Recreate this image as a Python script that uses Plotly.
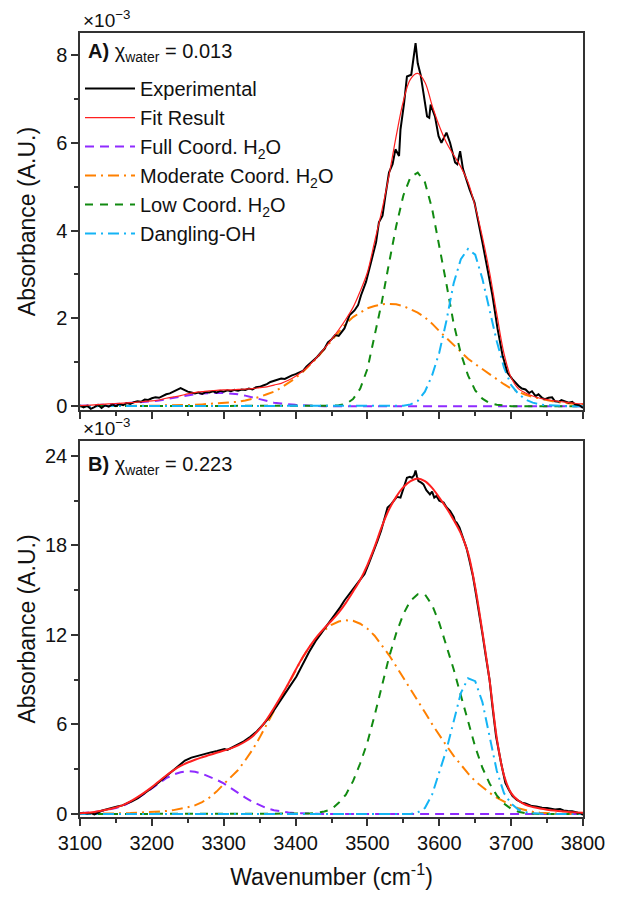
import plotly.graph_objects as go

# ---------------- data (absorbance in units of 1e-3) ----------------
wn = [3100, 3110, 3120, 3130, 3140, 3150, 3160, 3170, 3180, 3190,
      3200, 3210, 3220, 3230, 3240, 3250, 3260, 3270, 3280, 3290,
      3300, 3310, 3320, 3330, 3340, 3350, 3360, 3370, 3380, 3390,
      3400, 3410, 3420, 3430, 3440, 3450, 3460, 3470, 3480, 3490,
      3500, 3510, 3520, 3530, 3540, 3550, 3560, 3570, 3580, 3590,
      3600, 3610, 3620, 3630, 3640, 3650, 3660, 3670, 3680, 3690,
      3700, 3710, 3720, 3730, 3740, 3750, 3760, 3770, 3780, 3790,
      3800]

# Panel A: chi_water = 0.013
a_exp_wn = [3100, 3105, 3110, 3115, 3120, 3125, 3130, 3135, 3140, 3145,
            3150, 3155, 3160, 3165, 3170, 3175, 3180, 3185, 3190, 3195,
            3200, 3205, 3210, 3215, 3220, 3225, 3230, 3235, 3240, 3245,
            3250, 3255, 3260, 3265, 3270, 3275, 3280, 3285, 3290, 3295,
            3300, 3305, 3310, 3315, 3320, 3325, 3330, 3335, 3340, 3345,
            3350, 3355, 3360, 3365, 3370, 3375, 3380, 3385, 3390, 3395,
            3400, 3405, 3410, 3415, 3420, 3425, 3430, 3435, 3440, 3445,
            3450, 3455, 3460, 3468, 3475, 3482, 3487, 3491, 3498, 3505,
            3512, 3516, 3521, 3525, 3530, 3535, 3539, 3544, 3546, 3551,
            3555, 3561, 3564, 3567, 3570, 3574, 3578, 3583, 3586, 3588,
            3594, 3599, 3603, 3610, 3615, 3622, 3625, 3629, 3633, 3642,
            3649, 3654, 3660, 3667, 3674, 3681, 3688, 3695, 3702, 3711,
            3715, 3720, 3725, 3729, 3734, 3738, 3743, 3747, 3752, 3757,
            3761, 3766, 3770, 3775, 3780, 3785, 3789, 3795, 3800]
a_exp_abs = [0.02, -0.03, 0.01, -0.06, -0.02, 0.03, -0.04, 0.02, -0.01, 0.04,
             0.00, 0.05, 0.02, 0.07, 0.05, 0.09, 0.11, 0.10, 0.15, 0.14,
             0.18, 0.20, 0.19, 0.24, 0.27, 0.29, 0.33, 0.38, 0.41, 0.37,
             0.33, 0.31, 0.29, 0.31, 0.28, 0.32, 0.31, 0.34, 0.31, 0.35,
             0.33, 0.36, 0.34, 0.37, 0.35, 0.38, 0.37, 0.40, 0.38, 0.43,
             0.44, 0.47, 0.50, 0.55, 0.58, 0.60, 0.63, 0.62, 0.67, 0.70,
             0.73, 0.77, 0.80, 0.90, 0.97, 1.03, 1.12, 1.22, 1.30, 1.45,
             1.52, 1.62, 1.60, 1.77, 2.07, 2.18, 2.30, 2.52, 2.83, 3.28,
             3.73, 4.19, 4.34, 4.79, 5.32, 5.51, 5.85, 5.70, 6.30, 6.90,
             7.51, 7.55, 7.89, 8.27, 7.81, 7.55, 7.13, 6.60, 6.57, 6.87,
             6.60, 6.15, 6.00, 6.23, 6.00, 5.55, 5.51, 5.81, 5.40, 4.94,
             4.64, 4.26, 3.73, 3.13, 2.52, 1.77, 1.16, 0.76, 0.61, 0.45,
             0.40, 0.38, 0.30, 0.34, 0.23, 0.27, 0.19, 0.16, 0.19, 0.20,
             0.11, 0.10, 0.14, 0.11, 0.08, 0.10, 0.04, 0.02, -0.04]
a_fit = [0.01, 0.02, 0.03, 0.04, 0.05, 0.06, 0.07, 0.08, 0.09, 0.11,
         0.12, 0.14, 0.18, 0.21, 0.24, 0.28, 0.31, 0.33, 0.35, 0.36,
         0.37, 0.37, 0.38, 0.39, 0.40, 0.42, 0.44, 0.48, 0.52, 0.59,
         0.68, 0.80, 0.95, 1.12, 1.31, 1.52, 1.74, 1.98, 2.25, 2.62,
         3.05, 3.75, 4.45, 5.25, 6.15, 6.95, 7.45, 7.58, 7.38, 6.85,
         6.38, 6.00, 5.72, 5.45, 5.10, 4.55, 3.85, 3.05, 2.10, 1.20,
         0.65, 0.40, 0.30, 0.23, 0.18, 0.15, 0.12, 0.10, 0.08, 0.06,
         0.05]
a_full = [0.01, 0.01, 0.02, 0.03, 0.04, 0.05, 0.06, 0.07, 0.08, 0.10,
          0.11, 0.13, 0.16, 0.19, 0.22, 0.25, 0.27, 0.29, 0.30, 0.30,
          0.30, 0.29, 0.27, 0.24, 0.20, 0.16, 0.12, 0.08, 0.06, 0.04,
          0.03, 0.02, 0.01, 0.01, 0, 0, 0, 0, 0, 0,
          0, 0, 0, 0, 0, 0, 0, 0, 0, 0,
          0, 0, 0, 0, 0, 0, 0, 0, 0, 0,
          0, 0, 0, 0, 0, 0, 0, 0, 0, 0,
          0]
a_mod = [0, 0, 0, 0, 0, 0, 0, 0, 0.01, 0.01,
         0.01, 0.01, 0.02, 0.02, 0.02, 0.03, 0.03, 0.04, 0.05, 0.06,
         0.07, 0.08, 0.10, 0.13, 0.17, 0.21, 0.27, 0.33, 0.42, 0.52,
         0.64, 0.78, 0.93, 1.10, 1.30, 1.50, 1.70, 1.88, 2.03, 2.14,
         2.23, 2.28, 2.32, 2.33, 2.32, 2.28, 2.21, 2.13, 2.02, 1.88,
         1.71, 1.55, 1.40, 1.22, 1.08, 0.96, 0.84, 0.72, 0.61, 0.50,
         0.40, 0.33, 0.26, 0.21, 0.17, 0.13, 0.10, 0.08, 0.06, 0.05,
         0.04]
a_low = [0, 0, 0, 0, 0, 0, 0, 0, 0, 0,
         0, 0, 0, 0, 0, 0, 0, 0, 0, 0,
         0, 0, 0, 0, 0, 0, 0, 0, 0, 0,
         0, 0, 0, 0, 0, 0.01, 0.02, 0.05, 0.16, 0.40,
         0.85, 1.58, 2.37, 3.25, 4.10, 4.80, 5.22, 5.32, 5.10, 4.50,
         3.68, 2.78, 1.88, 1.20, 0.70, 0.36, 0.17, 0.07, 0.03, 0.01,
         0, 0, 0, 0, 0, 0, 0, 0, 0, 0,
         0]
a_dang = [0, 0, 0, 0, 0, 0, 0, 0, 0, 0,
          0, 0, 0, 0, 0, 0, 0, 0, 0, 0,
          0, 0, 0, 0, 0, 0, 0, 0, 0, 0,
          0, 0, 0, 0, 0, 0, 0, 0, 0, 0,
          0, 0, 0, 0, 0, 0.01, 0.04, 0.12, 0.33, 0.70,
          1.22, 1.95, 2.80, 3.35, 3.58, 3.45, 2.90, 2.22, 1.48, 0.88,
          0.48, 0.28, 0.15, 0.08, 0.04, 0.02, 0.01, 0, 0, 0,
          0]

# Panel B: chi_water = 0.223
b_exp_wn = [3100, 3105, 3110, 3115, 3120, 3125, 3130, 3135, 3140, 3146,
            3152, 3159, 3166, 3173, 3180, 3191, 3200, 3209, 3218, 3228,
            3237, 3246, 3255, 3264, 3273, 3282, 3291, 3301, 3305, 3310,
            3319, 3328, 3337, 3346, 3355, 3364, 3373, 3383, 3392, 3401,
            3410, 3419, 3428, 3437, 3446, 3455, 3462, 3468, 3475, 3482,
            3489, 3496, 3502, 3509, 3514, 3519, 3524, 3528, 3532, 3537,
            3541, 3546, 3551, 3555, 3559, 3562, 3565, 3567, 3569, 3571,
            3575, 3578, 3582, 3587, 3590, 3593, 3596, 3600, 3606, 3610,
            3615, 3620, 3622, 3624, 3628, 3633, 3638, 3642, 3647, 3651,
            3656, 3660, 3665, 3670, 3674, 3679, 3686, 3692, 3697, 3702,
            3708, 3715, 3720, 3725, 3729, 3735, 3740, 3743, 3750, 3755,
            3761, 3768, 3773, 3779, 3785, 3793, 3797, 3800]
b_exp_abs = [0.05, 0.08, 0.03, 0.06, -0.02, 0.12, 0.22, 0.28, 0.33, 0.42,
             0.50, 0.58, 0.70, 0.87, 1.05, 1.42, 1.75, 2.09, 2.45, 2.87,
             3.25, 3.58, 3.78, 3.91, 4.02, 4.13, 4.22, 4.36, 4.30, 4.42,
             4.62, 4.87, 5.18, 5.53, 6.00, 6.53, 7.18, 7.87, 8.55, 9.20,
             10.05, 10.87, 11.60, 12.20, 12.75, 13.40, 13.85, 14.31, 14.75, 15.20,
             15.60, 16.09, 16.80, 17.64, 18.30, 18.98, 19.90, 20.53, 20.70, 20.98,
             21.25, 21.20, 21.90, 22.53, 22.60, 22.53, 22.70, 23.02, 22.60, 22.31,
             22.20, 22.09, 21.70, 21.42, 21.60, 21.20, 21.31, 21.00, 20.87, 20.55,
             20.31, 19.90, 19.60, 19.53, 19.20, 18.53, 17.80, 16.98, 15.90, 14.76,
             13.40, 12.09, 10.50, 8.98, 7.20, 5.20, 3.42, 2.09, 1.60, 1.20,
             0.95, 0.76, 0.70, 0.58, 0.53, 0.50, 0.44, 0.42, 0.40, 0.36,
             0.31, 0.33, 0.24, 0.20, 0.18, 0.09, 0.05, -0.07]
b_fit = [0.05, 0.08, 0.14, 0.22, 0.32, 0.44, 0.60, 0.84, 1.13, 1.45,
         1.80, 2.20, 2.58, 2.92, 3.22, 3.45, 3.64, 3.80, 3.95, 4.10,
         4.25, 4.40, 4.60, 4.86, 5.20, 5.70, 6.35, 7.10, 7.90, 8.75,
         9.65, 10.50, 11.25, 11.90, 12.45, 12.95, 13.50, 14.15, 14.90, 15.70,
         16.70, 17.90, 19.25, 20.40, 21.25, 21.90, 22.30, 22.48, 22.30, 21.85,
         21.20, 20.50, 19.70, 18.80, 17.50, 15.20, 12.20, 8.95, 5.10, 2.60,
         1.40, 0.90, 0.62, 0.47, 0.37, 0.29, 0.23, 0.18, 0.14, 0.11,
         0.08]
b_full = [0.05, 0.08, 0.13, 0.20, 0.29, 0.40, 0.55, 0.78, 1.05, 1.38,
          1.72, 2.08, 2.40, 2.64, 2.80, 2.87, 2.83, 2.70, 2.52, 2.30,
          2.05, 1.72, 1.40, 1.10, 0.82, 0.58, 0.38, 0.25, 0.16, 0.10,
          0.06, 0.03, 0.02, 0.01, 0, 0, 0, 0, 0, 0,
          0, 0, 0, 0, 0, 0, 0, 0, 0, 0,
          0, 0, 0, 0, 0, 0, 0, 0, 0, 0,
          0, 0, 0, 0, 0, 0, 0, 0, 0, 0,
          0]
b_mod = [0, 0, 0.01, 0.02, 0.03, 0.04, 0.05, 0.06, 0.08, 0.10,
         0.12, 0.16, 0.20, 0.26, 0.34, 0.45, 0.58, 0.80, 1.10, 1.50,
         2.00, 2.45, 2.95, 3.60, 4.30, 5.12, 6.00, 6.92, 7.82, 8.70,
         9.62, 10.50, 11.25, 11.85, 12.30, 12.68, 12.90, 12.98, 12.95, 12.75,
         12.42, 11.95, 11.30, 10.65, 9.90, 9.15, 8.38, 7.60, 6.82, 6.02,
         5.28, 4.58, 3.90, 3.30, 2.72, 2.20, 1.78, 1.42, 1.10, 0.82,
         0.58, 0.38, 0.25, 0.15, 0.09, 0.05, 0.03, 0.02, 0.01, 0,
         0]
b_low = [0, 0, 0, 0, 0, 0, 0, 0, 0, 0,
         0, 0, 0, 0, 0, 0, 0, 0, 0, 0,
         0, 0, 0, 0, 0, 0, 0, 0, 0, 0,
         0, 0, 0.03, 0.08, 0.17, 0.32, 0.75, 1.30, 2.20, 3.40,
         4.80, 6.60, 8.60, 10.50, 12.10, 13.40, 14.30, 14.72, 14.72, 14.00,
         12.80, 11.30, 9.70, 7.95, 6.20, 4.50, 3.10, 2.05, 1.25, 0.70,
         0.35, 0.15, 0.06, 0.02, 0, 0, 0, 0, 0, 0,
         0]
b_dang = [0, 0, 0, 0, 0, 0, 0, 0, 0, 0,
          0, 0, 0, 0, 0, 0, 0, 0, 0, 0,
          0, 0, 0, 0, 0, 0, 0, 0, 0, 0,
          0, 0, 0, 0, 0, 0, 0, 0, 0, 0,
          0, 0, 0, 0, 0, 0, 0, 0.10, 0.40, 1.30,
          2.80, 4.31, 6.20, 8.10, 9.10, 8.90, 7.50, 5.10, 2.90, 1.40,
          0.70, 0.30, 0.12, 0.05, 0.02, 0, 0, 0, 0, 0,
          0]

x_ticks = [3100, 3200, 3300, 3400, 3500, 3600, 3700, 3800]
a_ticks = [0, 2, 4, 6, 8]
b_ticks = [0, 6, 12, 18, 24]

names = ["Experimental", "Fit Result", "Full Coord. H<sub>2</sub>O",
         "Moderate Coord. H<sub>2</sub>O", "Low Coord. H<sub>2</sub>O", "Dangling-OH"]

# ---------------- styles ----------------
FONT = "Liberation Sans, Arial, sans-serif"
C_FULL, C_MOD, C_LOW, C_DANG = "#8F2BFF", "#FF8000", "#118A11", "#14B4F5"
D_FULL, D_MOD, D_LOW, D_DANG = "9px,6px", "11px,5px,2px,5px", "8px,7px", "11px,5px,2px,5px"

fig = go.Figure()

def add_panel(exp_x, exp_y, fit, full, mod, low, dang, xa, ya, show, fitw):
    comps = [(full, C_FULL, D_FULL, names[2], 3), (mod, C_MOD, D_MOD, names[3], 4),
             (low, C_LOW, D_LOW, names[4], 5), (dang, C_DANG, D_DANG, names[5], 6)]
    for ys, col, dash, nm, rk in comps:
        fig.add_trace(go.Scatter(x=wn, y=ys, mode="lines", name=nm, legendrank=rk,
                                 line=dict(color=col, width=2, dash=dash),
                                 xaxis=xa, yaxis=ya, showlegend=show))
    fig.add_trace(go.Scatter(x=exp_x, y=exp_y, mode="lines", name=names[0], legendrank=1,
                             line=dict(color="#000000", width=2),
                             xaxis=xa, yaxis=ya, showlegend=show))
    fig.add_trace(go.Scatter(x=wn, y=fit, mode="lines", name=names[1], legendrank=2,
                             line=dict(color="#FF2020", width=fitw, shape="spline"),
                             xaxis=xa, yaxis=ya, showlegend=show))

add_panel(a_exp_wn, a_exp_abs, a_fit, a_full, a_mod, a_low, a_dang, "x", "y", True, 1.2)
add_panel(b_exp_wn, b_exp_abs, b_fit, b_full, b_mod, b_low, b_dang, "x2", "y2", False, 2)

axis_common = dict(showline=True, linewidth=1.5, linecolor="#333333", mirror=True,
                   ticks="outside", ticklen=7, tickwidth=1.5, tickcolor="#333333",
                   showgrid=False, zeroline=False,
                   tickfont=dict(family=FONT, size=20, color="#111111"))

fig.update_layout(
    width=617, height=898,
    margin=dict(l=80, r=25, t=33, b=77),
    paper_bgcolor="white", plot_bgcolor="white",
    font=dict(family=FONT, size=20, color="#111111"),
    xaxis=dict(domain=[0, 1], anchor="y", range=[3100, 3800], tickvals=x_ticks,
               showticklabels=False,
               minor=dict(dtick=50, tick0=3100, ticklen=4, tickwidth=1.5, tickcolor="#333333", ticks="outside"),
               **axis_common),
    yaxis=dict(domain=[0.519, 1], anchor="x", range=[-0.09, 8.5], tickvals=a_ticks,
               minor=dict(dtick=1, tick0=0, ticklen=4, tickwidth=1.5, tickcolor="#333333", ticks="outside"),
               title=dict(text="Absorbance (A.U.)", font=dict(family=FONT, size=23), standoff=14),
               **axis_common),
    xaxis2=dict(domain=[0, 1], anchor="y2", range=[3100, 3800], tickvals=x_ticks,
                minor=dict(dtick=50, tick0=3100, ticklen=4, tickwidth=1.5, tickcolor="#333333", ticks="outside"),
                title=dict(text="Wavenumber (cm<sup>-1</sup>)", font=dict(family=FONT, size=23), standoff=16),
                **axis_common),
    yaxis2=dict(domain=[0, 0.4797], anchor="x2", range=[-0.2, 25.0], tickvals=b_ticks,
                minor=dict(dtick=3, tick0=0, ticklen=4, tickwidth=1.5, tickcolor="#333333", ticks="outside"),
                title=dict(text="Absorbance (A.U.)", font=dict(family=FONT, size=23), standoff=3),
                **axis_common),
    legend=dict(x=0.0, y=0.954, xanchor="left", yanchor="top", bgcolor="rgba(0,0,0,0)",
                font=dict(family=FONT, size=20, color="#111111"), traceorder="normal",
                itemwidth=50, tracegroupgap=0),
    showlegend=True,
)

fig.add_annotation(xref="paper", yref="paper", x=0.002, y=1.0, xanchor="left", yanchor="bottom",
                   text="×10<sup>−3</sup>", showarrow=False, font=dict(family=FONT, size=19))
fig.add_annotation(xref="paper", yref="paper", x=0.002, y=0.4797, xanchor="left", yanchor="bottom",
                   text="×10<sup>−3</sup>", showarrow=False, font=dict(family=FONT, size=19))
fig.add_annotation(xref="paper", yref="paper", x=0.012, y=0.9746, xanchor="left", yanchor="middle",
                   text="<b>A)</b> χ<sub>water</sub> = 0.013", showarrow=False, font=dict(family=FONT, size=20))
fig.add_annotation(xref="paper", yref="paper", x=0.012, y=0.448, xanchor="left", yanchor="middle",
                   text="<b>B)</b> χ<sub>water</sub> = 0.223", showarrow=False, font=dict(family=FONT, size=20))

fig.write_html("out.html")
